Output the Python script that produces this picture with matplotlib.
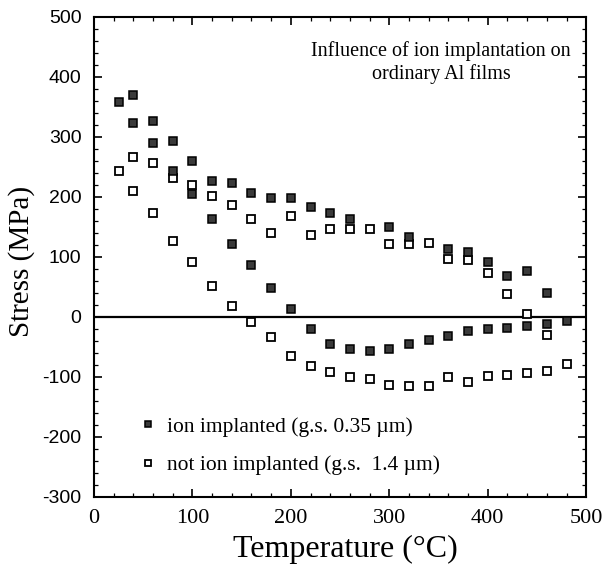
import matplotlib
matplotlib.use("Agg")
import matplotlib.pyplot as plt
from matplotlib.ticker import MultipleLocator

plt.rcParams["axes.unicode_minus"] = False

# ion implanted (filled squares), two branches
impl_T_a = [25, 40, 60, 80, 100, 120, 140, 160, 180, 200, 220, 240, 260, 300, 320, 360, 380, 400, 420, 440, 460, 480]
impl_S_a = [358, 370, 327, 294, 260, 227, 223, 207, 198, 199, 183, 174, 164, 150, 134, 113, 108, 92, 69, 77, 40, -7]
impl_T_b = [40, 60, 80, 100, 120, 140, 160, 180, 200, 220, 240, 260, 280, 300, 320, 340, 360, 380, 400, 420, 440, 460]
impl_S_b = [324, 290, 243, 205, 163, 122, 86, 48, 13, -20, -45, -54, -56, -53, -45, -38, -32, -24, -20, -18, -15, -12]

# not ion implanted (open squares), two branches
non_T_a = [25, 40, 60, 80, 100, 120, 140, 160, 180, 200, 220, 240, 260, 280, 300, 320, 340, 360, 380, 400, 420, 440, 460]
non_S_a = [244, 266, 256, 232, 220, 201, 186, 164, 140, 169, 136, 147, 146, 146, 121, 122, 124, 96, 95, 74, 38, 5, -30]
non_T_b = [40, 60, 80, 100, 120, 140, 160, 180, 200, 220, 240, 260, 280, 300, 320, 340, 360, 380, 400, 420, 440, 460, 480]
non_S_b = [210, 174, 127, 92, 51, 18, -9, -34, -65, -82, -91, -100, -103, -113, -115, -115, -100, -109, -98, -96, -94, -90, -79]

label_impl = "ion implanted (g.s. 0.35 \u00b5m)"
label_non = "not ion implanted (g.s.  1.4 \u00b5m)"
title_text = "Influence of ion implantation on\nordinary Al films"
x_ticks = [0, 100, 200, 300, 400, 500]
y_ticks = [-300, -200, -100, 0, 100, 200, 300, 400, 500]

serif = "Liberation Serif"
sans = "Liberation Sans"

fig = plt.figure(figsize=(6.10, 5.66), dpi=100)
ax = fig.add_axes([0.154, 0.122, 0.807, 0.848])

ax.axhline(0, color="black", lw=1.6, zorder=1)

ms = 6
ax.plot(impl_T_a + impl_T_b, impl_S_a + impl_S_b, ls="none", marker="s", ms=ms,
        mfc="#3a3a3a", mec="black", mew=1.1, label=label_impl, zorder=3)
ax.plot(non_T_a + non_T_b, non_S_a + non_S_b, ls="none", marker="s", ms=ms,
        mfc="white", mec="black", mew=1.3, label=label_non, zorder=2)

ax.set_xlim(0, 500)
ax.set_ylim(-300, 500)
ax.set_xticks(x_ticks)
ax.set_yticks(y_ticks)
ax.xaxis.set_minor_locator(MultipleLocator(20))
ax.yaxis.set_minor_locator(MultipleLocator(20))
ax.tick_params(which="both", direction="in", top=True, right=True, color="black")
ax.tick_params(which="major", length=6, width=1.2)
ax.tick_params(which="minor", length=3, width=0.9)
ax.tick_params(axis="y", pad=9)
ax.tick_params(axis="x", pad=9)
for lbl in ax.get_yticklabels():
    lbl.set_fontfamily(sans)
    lbl.set_fontsize(14)
for lbl in ax.get_xticklabels():
    lbl.set_fontfamily(serif)
    lbl.set_fontsize(16)
for sp in ax.spines.values():
    sp.set_linewidth(1.5)

ax.set_xlabel("Temperature (\u00b0C)", fontfamily=serif, fontsize=23)
ax.set_ylabel("Stress (MPa)", fontfamily=serif, fontsize=21)
ax.xaxis.set_label_coords(0.51, -0.08)
ax.yaxis.set_label_coords(-0.12, 0.49)

ax.text(0.705, 0.905, title_text, transform=ax.transAxes, ha="center", va="center",
        fontfamily=serif, fontsize=14.5, linespacing=1.2)

leg = ax.legend(loc="lower left", bbox_to_anchor=(0.05, 0.005), frameon=False,
                prop={"family": serif, "size": 15.5}, handletextpad=0.45,
                labelspacing=0.85, markerscale=0.8, handlelength=0.9)

fig.savefig("out.png", dpi=100)
